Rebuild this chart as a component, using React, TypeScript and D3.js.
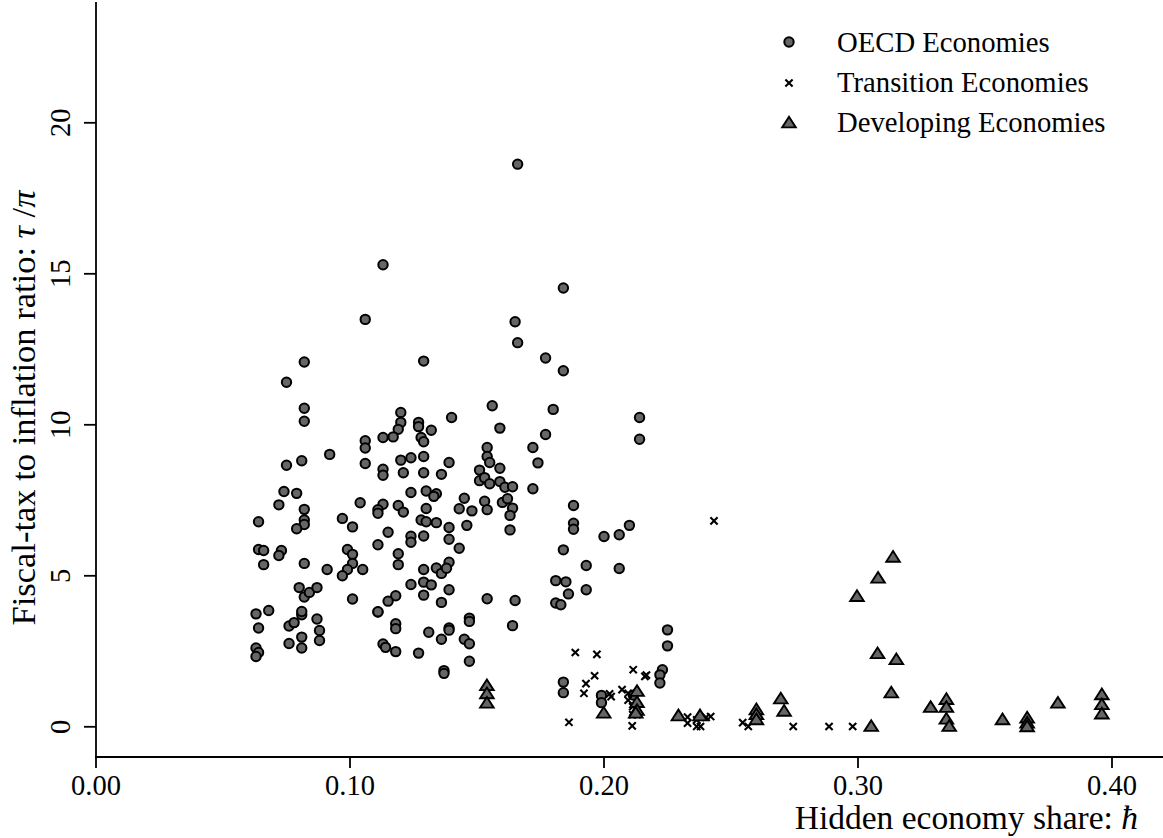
import React from 'react';
import * as d3 from 'd3';

// hidden economy share vs fiscal-tax / inflation ratio
const oecd: [number, number][] = [
  [0.063, 3.74], [0.068, 3.85], [0.064, 3.27], [0.063, 2.61], [0.064, 2.46], [0.063, 2.33],
  [0.076, 3.34], [0.078, 3.45], [0.081, 3.71], [0.081, 3.82], [0.076, 2.76], [0.081, 2.97],
  [0.081, 2.61], [0.087, 3.57], [0.088, 3.19], [0.088, 2.86], [0.111, 3.8], [0.118, 3.41],
  [0.118, 3.25], [0.113, 2.74], [0.114, 2.63], [0.118, 2.49],
  [0.113, 15.3], [0.106, 13.49], [0.129, 12.11], [0.082, 12.08], [0.075, 11.41], [0.082, 10.55],
  [0.082, 10.12], [0.12, 10.41], [0.12, 10.08], [0.119, 9.85], [0.127, 10.08], [0.127, 9.94],
  [0.132, 9.82], [0.14, 10.24], [0.106, 9.47], [0.106, 9.23], [0.113, 9.58], [0.117, 9.6],
  [0.128, 9.58], [0.129, 9.44], [0.092, 9.02], [0.081, 8.81], [0.075, 8.66], [0.106, 8.72],
  [0.113, 8.53], [0.113, 8.33], [0.12, 8.83], [0.124, 8.91], [0.129, 8.95], [0.121, 8.41],
  [0.129, 8.41], [0.136, 8.36], [0.139, 8.75], [0.074, 7.79], [0.079, 7.73], [0.072, 7.35],
  [0.082, 7.2], [0.064, 6.79], [0.082, 6.85], [0.082, 6.7], [0.079, 6.56], [0.104, 7.42],
  [0.097, 6.9], [0.101, 6.62], [0.113, 7.37], [0.111, 7.19], [0.111, 7.07], [0.119, 7.33],
  [0.121, 7.11], [0.124, 7.76], [0.13, 7.81], [0.134, 7.72], [0.133, 7.63], [0.13, 7.23],
  [0.128, 6.85], [0.13, 6.79], [0.134, 6.76], [0.115, 6.44], [0.111, 6.03], [0.124, 6.31],
  [0.124, 6.11], [0.129, 6.32], [0.139, 6.6], [0.139, 6.21], [0.064, 5.87], [0.066, 5.84],
  [0.073, 5.84], [0.072, 5.67], [0.066, 5.37], [0.082, 5.41], [0.091, 5.21], [0.099, 5.87],
  [0.101, 5.71], [0.101, 5.41], [0.099, 5.21], [0.097, 5.0], [0.105, 5.21], [0.119, 5.73],
  [0.119, 5.37], [0.129, 5.21], [0.134, 5.26], [0.136, 5.08], [0.139, 5.45], [0.129, 4.79],
  [0.132, 4.7], [0.124, 4.71], [0.129, 4.36], [0.139, 4.54], [0.136, 4.12], [0.118, 4.34],
  [0.115, 4.16], [0.101, 4.23], [0.111, 3.81], [0.08, 4.61], [0.082, 4.3], [0.084, 4.45],
  [0.087, 4.61], [0.131, 3.13], [0.139, 3.27], [0.136, 2.9], [0.127, 2.44], [0.137, 1.86],
  [0.137, 1.77],
  [0.166, 18.63], [0.184, 14.53], [0.165, 13.41], [0.166, 12.72], [0.177, 12.21], [0.184, 11.79],
  [0.156, 10.63], [0.18, 10.51], [0.214, 10.24], [0.214, 9.52], [0.159, 9.89], [0.177, 9.68],
  [0.154, 9.25], [0.154, 8.95], [0.155, 8.75], [0.172, 9.25], [0.174, 8.74], [0.159, 8.56],
  [0.151, 8.5], [0.151, 8.15], [0.153, 8.25], [0.155, 8.05], [0.159, 8.12], [0.161, 7.93],
  [0.164, 7.95], [0.172, 7.88], [0.145, 7.57], [0.143, 7.22], [0.148, 7.15], [0.153, 7.47],
  [0.154, 7.19], [0.16, 7.43], [0.162, 7.55], [0.164, 7.24], [0.163, 7.0], [0.146, 6.67],
  [0.163, 6.52], [0.188, 7.33], [0.188, 6.74], [0.188, 6.54], [0.21, 6.67], [0.206, 6.36],
  [0.2, 6.3],
  [0.143, 5.91], [0.184, 5.86], [0.193, 5.34], [0.206, 5.24], [0.138, 5.25], [0.154, 4.24],
  [0.165, 4.18], [0.181, 4.84], [0.185, 4.8], [0.186, 4.4], [0.193, 4.54], [0.181, 4.1],
  [0.183, 4.04], [0.147, 3.6], [0.147, 3.49], [0.139, 3.2], [0.145, 2.9], [0.147, 2.75],
  [0.164, 3.35], [0.147, 2.17], [0.184, 1.48], [0.184, 1.13], [0.199, 1.04], [0.199, 0.8],
  [0.225, 3.21], [0.225, 2.68], [0.223, 1.89], [0.222, 1.72], [0.222, 1.45], [0.2115, 1.05],
];

const transition: [number, number][] = [
  [0.2433, 6.82], [0.1887, 2.46], [0.1972, 2.4], [0.2115, 1.89], [0.2161, 1.67], [0.2167, 1.71],
  [0.1963, 1.69], [0.1929, 1.43], [0.1921, 1.11], [0.2022, 1.09], [0.2028, 1.0], [0.2071, 1.23],
  [0.2095, 1.11], [0.2095, 0.88], [0.2113, 0.67], [0.2113, 0.4], [0.213, 0.4], [0.1862, 0.15],
  [0.2111, 0.03], [0.2329, 0.32], [0.2329, 0.12], [0.2365, 0.23], [0.2365, 0.01], [0.238, 0.01],
  [0.242, 0.34], [0.2402, 0.31], [0.2546, 0.14], [0.2568, 0.01], [0.2745, 0.01], [0.2886, 0.01],
  [0.2979, 0.01],
];

const developing: [number, number][] = [
  [0.1539, 1.36], [0.1539, 1.09], [0.1539, 0.78], [0.1999, 0.45], [0.213, 1.17], [0.213, 0.8],
  [0.213, 0.54], [0.2125, 0.45], [0.2293, 0.36], [0.2378, 0.36], [0.26, 0.56], [0.26, 0.4],
  [0.26, 0.23], [0.2696, 0.92], [0.2709, 0.51], [0.3052, 0.01], [0.2996, 4.31], [0.3079, 4.92],
  [0.3138, 5.61], [0.3077, 2.42], [0.3151, 2.22], [0.3131, 1.12], [0.3286, 0.64], [0.3348, 0.9],
  [0.3348, 0.64], [0.3348, 0.25], [0.3359, 0.01], [0.3569, 0.23], [0.3666, 0.29], [0.3666, 0.12],
  [0.3666, 0.0], [0.3787, 0.78], [0.396, 1.06], [0.396, 0.73], [0.396, 0.42],
];

const xTicks = [0, 0.1, 0.2, 0.3, 0.4];
const yTicks = [0, 5, 10, 15, 20];
const legendLabels = ['OECD Economies', 'Transition Economies', 'Developing Economies'];

const W = 1163;
const H = 838;
const FILL = '#666666';
const SERIF = '"Liberation Serif", "Times New Roman", serif';

const Circle = ({ x, y }: { x: number; y: number }) => (
  <circle cx={x} cy={y} r={4.7} fill={FILL} stroke="#000" strokeWidth={2} />
);

const Cross = ({ x, y }: { x: number; y: number }) => {
  const s = 3.6;
  return (
    <path
      d={`M${x - s},${y - s}L${x + s},${y + s}M${x - s},${y + s}L${x + s},${y - s}`}
      stroke="#000"
      strokeWidth={2.1}
      fill="none"
    />
  );
};

const Triangle = ({ x, y }: { x: number; y: number }) => (
  <path
    d={`M${x},${y - 6.3}L${x + 6.8},${y + 4.4}L${x - 6.8},${y + 4.4}Z`}
    fill={FILL}
    stroke="#000"
    strokeWidth={1.9}
  />
);

const App: React.FC = () => {
  const x = d3.scaleLinear().domain([0, 0.42]).range([96, 1162.8]);
  const y = d3.scaleLinear().domain([-1, 24]).range([757, 2]);
  const fmt = d3.format('.2f');

  return (
    <svg
      width={W}
      height={H}
      style={{ position: 'absolute', left: 0, top: 0, background: '#fff' }}
      fontFamily={SERIF}
    >
      {/* axes */}
      <line x1={x(0) - 1} x2={W} y1={757} y2={757} stroke="#000" strokeWidth={1.8} />
      <line x1={x(0)} x2={x(0)} y1={y(24)} y2={757} stroke="#000" strokeWidth={1.8} />

      {xTicks.map(t => (
        <g key={`xt${t}`}>
          <line x1={x(t)} x2={x(t)} y1={757} y2={768} stroke="#000" strokeWidth={1.8} />
          <text x={x(t)} y={795} textAnchor="middle" fontSize={28.5}>
            {fmt(t)}
          </text>
        </g>
      ))}

      {yTicks.map(t => (
        <g key={`yt${t}`}>
          <line x1={84} x2={x(0)} y1={y(t)} y2={y(t)} stroke="#000" strokeWidth={1.8} />
          <text
            transform={`translate(70,${y(t)}) rotate(-90)`}
            textAnchor="middle"
            fontSize={28.5}
          >
            {t}
          </text>
        </g>
      ))}

      <text x={1138} y={829} textAnchor="end" fontSize={33.5}>
        Hidden economy share: <tspan fontStyle="italic">ħ</tspan>
      </text>
      <text transform="translate(35,408) rotate(-90)" textAnchor="middle" fontSize={34.5}>
        Fiscal-tax to inflation ratio: <tspan fontStyle="italic">τ</tspan>
        <tspan> /</tspan>
        <tspan fontStyle="italic">π</tspan>
      </text>

      {/* points */}
      {oecd.map((d, i) => (
        <Circle key={`o${i}`} x={x(d[0])} y={y(d[1])} />
      ))}
      {transition.map((d, i) => (
        <Cross key={`t${i}`} x={x(d[0])} y={y(d[1])} />
      ))}
      {developing.map((d, i) => (
        <Triangle key={`d${i}`} x={x(d[0])} y={y(d[1])} />
      ))}

      {/* legend */}
      <Circle x={789} y={42} />
      <Cross x={789} y={83} />
      <Triangle x={789} y={123} />
      {legendLabels.map((l, i) => (
        <text key={l} x={837} y={52 + i * 40} fontSize={28.7}>
          {l}
        </text>
      ))}
    </svg>
  );
};

export default App;
